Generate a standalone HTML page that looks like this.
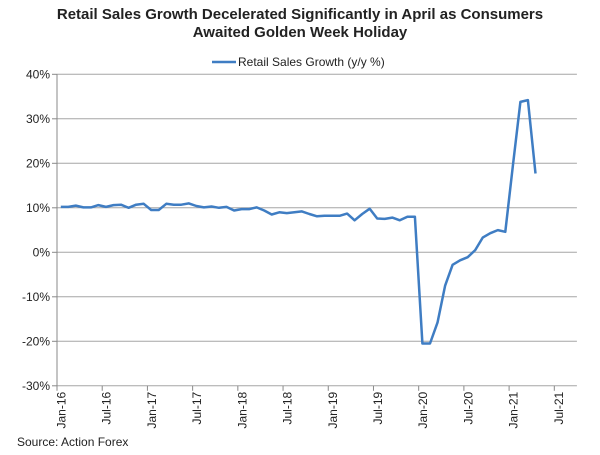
<!DOCTYPE html>
<html><head><meta charset="utf-8"><style>
body{margin:0;background:#fff;width:600px;height:455px;overflow:hidden;font-family:"Liberation Sans",Arial,sans-serif}
</style></head><body>
<svg width="600" height="455" id="c" style="position:absolute;left:0;top:0">
<text x="300" y="19" text-anchor="middle" font-size="15" font-weight="bold" fill="#222">Retail Sales Growth Decelerated Significantly in April as Consumers</text>
<text x="300" y="37" text-anchor="middle" font-size="15" font-weight="bold" fill="#222">Awaited Golden Week Holiday</text>
<g>
<line x1="212" y1="62" x2="236" y2="62" stroke="#3f7dc3" stroke-width="2.5"/>
<text x="238" y="66" font-size="12" fill="#222">Retail Sales Growth (y/y %)</text>
</g>
<text x="17" y="446" font-size="12" fill="#222">Source: Action Forex</text>
</svg>
<script>
const categoriesStart = ['Jan-16'];
const tickLabels = ['Jan-16','Jul-16','Jan-17','Jul-17','Jan-18','Jul-18','Jan-19','Jul-19','Jan-20','Jul-20','Jan-21','Jul-21'];
const yTicks = [40,30,20,10,0,-10,-20,-30];
const retailSales = [
10.2,10.2,10.5,10.1,10.1,10.6,10.2,10.6,10.7,10.0,10.7,10.9,
9.5,9.5,10.9,10.7,10.7,11.0,10.4,10.1,10.3,10.0,10.2,9.4,
9.7,9.7,10.1,9.4,8.5,9.0,8.8,9.0,9.2,8.6,8.1,8.2,
8.2,8.2,8.7,7.2,8.6,9.8,7.6,7.5,7.8,7.2,8.0,8.0,
-20.5,-20.5,-15.8,-7.5,-2.8,-1.8,-1.1,0.5,3.3,4.3,5.0,4.6,
19.5,33.8,34.2,17.7];
const NS='http://www.w3.org/2000/svg';
const svg=document.getElementById('c');
const x0=57, catW=7.535, nCats=69, yZero=252.3, pxPer=4.45;
const X=i=>x0+(i+0.5)*catW;
const Y=v=>yZero-v*pxPer;
function mk(t,a){const e=document.createElementNS(NS,t);for(const k in a)e.setAttribute(k,a[k]);svg.appendChild(e);return e;}
yTicks.forEach(v=>{
  const g=mk('line',{x1:x0,x2:x0+nCats*catW,y1:Y(v),y2:Y(v),stroke:'#a6a6a6','stroke-width':1});
  
  
  const tk=mk('line',{x1:x0-5,x2:x0,y1:Y(v),y2:Y(v),stroke:'#888'});
  
  
  const t=mk('text',{x:x0-7,y:Y(v)+4,'text-anchor':'end','font-size':12,fill:'#222'});
  t.textContent=v+'%';
  
  
});
const ax=mk('line',{x1:x0,x2:x0,y1:Y(40),y2:Y(-30),stroke:'#888'});


tickLabels.forEach((l,k)=>{
  const xt=x0+k*6*catW;
  const tk=mk('line',{x1:xt,x2:xt,y1:Y(-30),y2:Y(-30)+5,stroke:'#888'});
  
  
  const xl=xt+4.5;
  const t=mk('text',{x:0,y:0,'text-anchor':'end','font-size':12,fill:'#222',transform:`translate(${xl+4},${Y(-30)+6}) rotate(-90)`});
  t.textContent=l;
  
  
});
const d=retailSales.map((v,i)=>(i?'L':'M')+X(i).toFixed(1)+','+Y(v).toFixed(1)).join(' ');
const p=mk('path',{d:d,fill:'none',stroke:'#3f7dc3','stroke-width':2.5,'stroke-linejoin':'round'});


</script>
</body></html>
